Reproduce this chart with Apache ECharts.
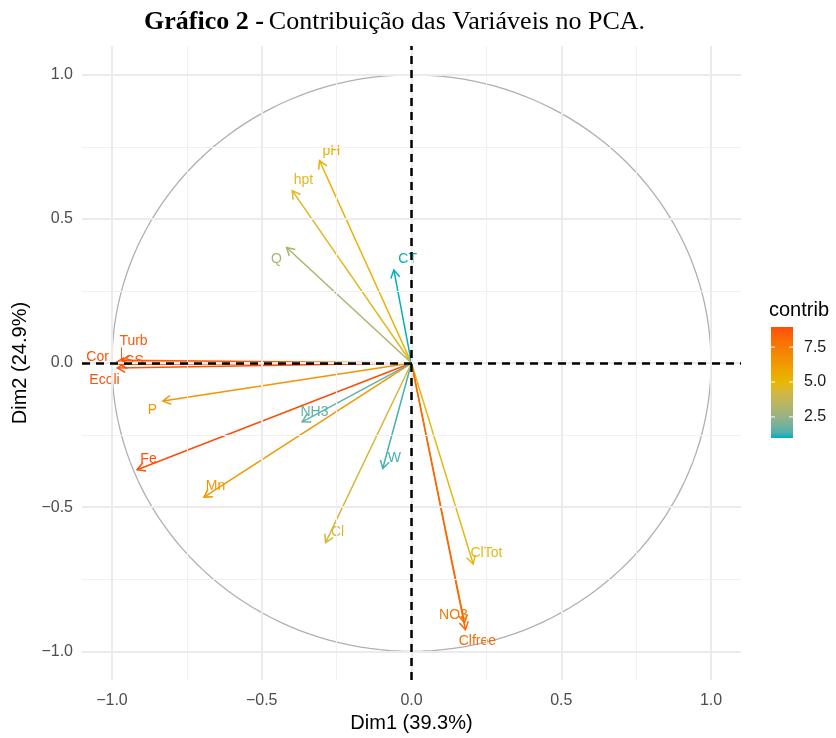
<!DOCTYPE html>
<html>
<head>
<meta charset="utf-8">
<script src="https://cdn.jsdelivr.net/npm/echarts@6/dist/echarts.min.js"></script>
<style>
  html, body { margin: 0; padding: 0; background: #fff; }
  #chart { width: 836px; height: 738px; }
</style>
</head>
<body>
<div id="chart"></div>
<script>
// Variable coordinates on the first two principal dimensions
const varNames = ['pH', 'hpt', 'Q', 'CT', 'Turb', 'Cor', 'SS', 'Ecoli', 'P', 'Fe', 'Mn', 'NH3', 'W', 'Cl', 'ClTot', 'NO3', 'Clfree'];
const dim1 = [-0.307, -0.398, -0.417, -0.059, -0.968, -0.985, -0.975, -0.982, -0.830, -0.916, -0.693, -0.365, -0.096, -0.287, 0.206, 0.177, 0.180];
const dim2 = [0.702, 0.598, 0.401, 0.323, 0.010, 0.003, -0.004, -0.017, -0.132, -0.370, -0.465, -0.204, -0.366, -0.623, -0.697, -0.901, -0.925];
// Contribution of each variable to Dim1 + Dim2 (%)
const contrib = [5.38, 4.73, 3.07, 0.99, 8.58, 8.89, 8.71, 8.83, 6.47, 8.94, 6.38, 1.60, 1.31, 4.31, 4.84, 7.72, 8.13];
// Label anchor points (after repelling), in the same units as the axes
const labelDim1 = [-0.267, -0.361, -0.451, -0.013, -0.928, -1.048, -0.925, -1.025, -0.865, -0.878, -0.654, -0.324, -0.057, -0.247, 0.250, 0.140, 0.220];
const labelDim2 = [0.736, 0.634, 0.360, 0.360, 0.075, 0.021, 0.007, -0.058, -0.164, -0.332, -0.428, -0.171, -0.329, -0.586, -0.658, -0.873, -0.966];

const majorTicks = [-1, -0.5, 0, 0.5, 1];
const minorTicks = [-0.75, -0.25, 0.25, 0.75];
const legendTicks = [2.5, 5.0, 7.5];
const gradientCols = ['#00AFBB', '#E7B800', '#FC4E07'];

const SANS = '"Liberation Sans", Arial, sans-serif';
const SERIF = '"Liberation Serif", "Times New Roman", serif';

// --- colour interpolation in CIE Lab, like ggplot's gradientn ---
function toLin(c) { c /= 255; return c <= 0.04045 ? c / 12.92 : Math.pow((c + 0.055) / 1.055, 2.4); }
function toSrgb(c) { const v = c <= 0.0031308 ? 12.92 * c : 1.055 * Math.pow(c, 1 / 2.4) - 0.055; return Math.round(Math.max(0, Math.min(1, v)) * 255); }
function hexToLab(hex) {
  const r = toLin(parseInt(hex.slice(1, 3), 16)), g = toLin(parseInt(hex.slice(3, 5), 16)), b = toLin(parseInt(hex.slice(5, 7), 16));
  const X = (0.4124 * r + 0.3576 * g + 0.1805 * b) / 0.95047;
  const Y = (0.2126 * r + 0.7152 * g + 0.0722 * b);
  const Z = (0.0193 * r + 0.1192 * g + 0.9505 * b) / 1.08883;
  const f = t => t > 0.008856 ? Math.cbrt(t) : 7.787 * t + 16 / 116;
  const fx = f(X), fy = f(Y), fz = f(Z);
  return [116 * fy - 16, 500 * (fx - fy), 200 * (fy - fz)];
}
function labToRgb(lab) {
  const fy = (lab[0] + 16) / 116, fx = fy + lab[1] / 500, fz = fy - lab[2] / 200;
  const inv = t => { const t3 = t * t * t; return t3 > 0.008856 ? t3 : (t - 16 / 116) / 7.787; };
  const X = inv(fx) * 0.95047, Y = inv(fy), Z = inv(fz) * 1.08883;
  const r = 3.2406 * X - 1.5372 * Y - 0.4986 * Z;
  const g = -0.9689 * X + 1.8758 * Y + 0.0415 * Z;
  const b = 0.0557 * X - 0.2040 * Y + 1.0570 * Z;
  return 'rgb(' + toSrgb(r) + ',' + toSrgb(g) + ',' + toSrgb(b) + ')';
}
const labStops = gradientCols.map(hexToLab);
const cMin = Math.min(...contrib), cMax = Math.max(...contrib);
function colorAt(t) {
  t = Math.max(0, Math.min(1, t));
  const seg = t <= 0.5 ? 0 : 1;
  const u = (t - seg * 0.5) / 0.5;
  const a = labStops[seg], b = labStops[seg + 1];
  return labToRgb([a[0] + (b[0] - a[0]) * u, a[1] + (b[1] - a[1]) * u, a[2] + (b[2] - a[2]) * u]);
}
function colorFor(v) { return colorAt((v - cMin) / (cMax - cMin)); }

const chart = echarts.init(document.getElementById('chart'), null, { renderer: 'canvas' });

const GRID = { left: 82, right: 95, top: 46, bottom: 50 };
const fmt = v => (v < 0 ? '\u2212' : '') + Math.abs(v).toFixed(1);

const arrowData = varNames.map((n, i) => [dim1[i], dim2[i], contrib[i], labelDim1[i], labelDim2[i]]);

function renderArrow(params, api) {
  const o = api.coord([0, 0]);
  const t = api.coord([api.value(0), api.value(1)]);
  const lp = api.coord([api.value(3), api.value(4)]);
  const name = varNames[params.dataIndex];
  const color = colorFor(api.value(2));
  const ang = Math.atan2(t[1] - o[1], t[0] - o[0]);
  const L = 9, a = Math.PI / 6;
  const h1 = [t[0] - L * Math.cos(ang - a), t[1] - L * Math.sin(ang - a)];
  const h2 = [t[0] - L * Math.cos(ang + a), t[1] - L * Math.sin(ang + a)];
  const children = [
    { type: 'line', shape: { x1: o[0], y1: o[1], x2: t[0], y2: t[1] }, style: { stroke: color, lineWidth: 1.5 } },
    { type: 'polyline', shape: { points: [h1, t, h2] }, style: { stroke: color, lineWidth: 1.5, fill: null } }
  ];
  // connector from point to a label pushed far away
  const dx = lp[0] - t[0], dy = lp[1] - t[1];
  if (Math.sqrt(dx * dx + dy * dy) > 21) {
    const hw = name.length * 3.3, hh = 6;
    const nx = Math.max(lp[0] - hw, Math.min(lp[0] + hw, t[0]));
    const ny = Math.max(lp[1] - hh, Math.min(lp[1] + hh, t[1]));
    children.push({ type: 'line', shape: { x1: t[0], y1: t[1], x2: nx, y2: ny }, style: { stroke: color, lineWidth: 1 } });
  }
  children.push({
    type: 'text',
    style: { text: name, x: lp[0], y: lp[1], fill: color, font: '14px ' + SANS, align: 'center', verticalAlign: 'middle' }
  });
  return { type: 'group', children };
}

function renderCircle(params, api) {
  const pts = [];
  for (let k = 0; k <= 180; k++) {
    const th = k / 180 * 2 * Math.PI;
    pts.push(api.coord([Math.cos(th), Math.sin(th)]));
  }
  return { type: 'polyline', shape: { points: pts }, style: { stroke: '#B0B0B0', lineWidth: 1.3, fill: null } };
}

const gridLineStyle = (w, c) => ({ type: 'solid', width: w, color: c });

const option = {
  backgroundColor: '#ffffff',
  animation: false,
  title: {
    text: '{b|Gráfico 2 -} {n|Contribuição das Variáveis no PCA.}',
    left: 139, top: 4,
    textStyle: {
      rich: {
        b: { fontFamily: SERIF, fontWeight: 'bold', fontSize: 26, color: '#000' },
        n: { fontFamily: SERIF, fontWeight: 'normal', fontSize: 26, color: '#000' }
      }
    }
  },
  grid: GRID,
  xAxis: {
    type: 'value', min: -1.1, max: 1.1,
    axisLine: { show: false }, axisTick: { show: false }, splitLine: { show: false },
    axisLabel: { customValues: majorTicks, formatter: fmt, color: '#4D4D4D', fontSize: 16, fontFamily: SANS, margin: 12 },
    name: 'Dim1 (39.3%)', nameLocation: 'middle', nameGap: 23,
    nameTextStyle: { fontSize: 20, color: '#000', fontFamily: SANS, verticalAlign: 'top' }
  },
  yAxis: {
    type: 'value', min: -1.1, max: 1.1,
    axisLine: { show: false }, axisTick: { show: false }, splitLine: { show: false },
    axisLabel: { customValues: majorTicks, formatter: fmt, color: '#4D4D4D', fontSize: 16, fontFamily: SANS, margin: 9 },
    name: 'Dim2 (24.9%)', nameLocation: 'middle', nameGap: 42,
    nameTextStyle: { fontSize: 20, color: '#000', fontFamily: SANS }
  },
  series: [
    {
      type: 'line', data: [], silent: true, z: 1,
      markLine: {
        silent: true, symbol: 'none', label: { show: false }, animation: false,
        data: [
          ...minorTicks.map(v => ({ xAxis: v, lineStyle: gridLineStyle(1, '#F0F0F0') })),
          ...minorTicks.map(v => ({ yAxis: v, lineStyle: gridLineStyle(1, '#F0F0F0') })),
          ...majorTicks.map(v => ({ xAxis: v, lineStyle: gridLineStyle(2, '#EBEBEB') })),
          ...majorTicks.map(v => ({ yAxis: v, lineStyle: gridLineStyle(2, '#EBEBEB') }))
        ]
      }
    },
    { type: 'custom', renderItem: renderCircle, data: [[0, 0]], silent: true, z: 2, clip: false },
    { type: 'custom', renderItem: renderArrow, data: arrowData, silent: true, z: 3, clip: false },
    {
      type: 'line', data: [], silent: true, z: 4,
      markLine: {
        silent: true, symbol: 'none', label: { show: false }, animation: false,
        lineStyle: { type: [8, 6], width: 2.5, color: '#000' },
        data: [{ xAxis: 0 }, { yAxis: 0 }]
      }
    }
  ]
};
chart.setOption(option);

// Colour bar legend for contrib
const bar = { x: 771, y: 327, w: 22, h: 111 };
const stops = [];
for (let k = 0; k <= 20; k++) stops.push({ offset: k / 20, color: colorAt(1 - k / 20) });
const legendEls = [
  { type: 'text', x: 769, y: 310, style: { text: 'contrib', fill: '#000', font: '20px ' + SANS, align: 'left', verticalAlign: 'middle' } },
  {
    type: 'rect', shape: { x: bar.x, y: bar.y, width: bar.w, height: bar.h },
    style: { fill: new echarts.graphic.LinearGradient(0, 0, 0, 1, stops) }
  }
];
legendTicks.forEach(v => {
  const y = bar.y + bar.h - (v - cMin) / (cMax - cMin) * bar.h;
  legendEls.push({ type: 'line', shape: { x1: bar.x, y1: y, x2: bar.x + 4, y2: y }, style: { stroke: '#fff', lineWidth: 1 } });
  legendEls.push({ type: 'line', shape: { x1: bar.x + bar.w - 4, y1: y, x2: bar.x + bar.w, y2: y }, style: { stroke: '#fff', lineWidth: 1 } });
  legendEls.push({ type: 'text', x: 804, y: y, style: { text: v.toFixed(1), fill: '#1A1A1A', font: '16px ' + SANS, align: 'left', verticalAlign: 'middle' } });
});
chart.setOption({ graphic: legendEls });
</script>
</body>
</html>
